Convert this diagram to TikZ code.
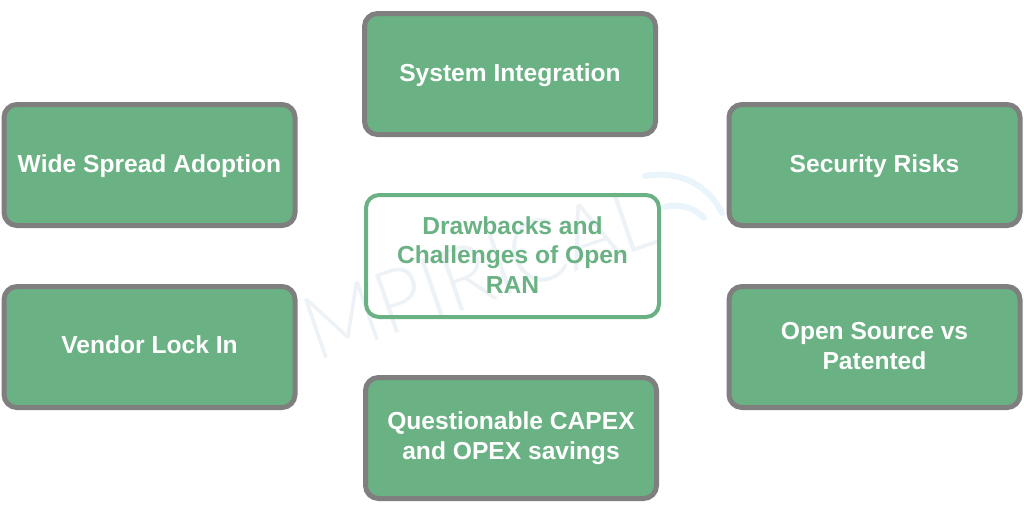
\documentclass[tikz,border=0pt]{standalone}
\usepackage{fontspec}
\setmainfont{Liberation Sans}
\newfontfamily\wmfont{Lato Light}
\definecolor{boxgreen}{HTML}{6AB183}
\definecolor{boxgrey}{HTML}{7F7F7F}
\definecolor{wmtext}{HTML}{EDF2F6}
\definecolor{wmarc}{HTML}{EAF4FB}
\newcommand{\nudge}[2]{\raisebox{#1pt}[\height][\depth]{#2}}
\tikzset{
  issue/.style={draw=boxgrey,fill=boxgreen,line width=5pt,rounded corners=13pt,
    minimum width=291pt,minimum height=121pt,inner sep=0pt,align=center,
    text=white,font=\fontsize{24.6}{29.5}\selectfont\bfseries},
  centre/.style={draw=boxgreen,fill=none,line width=4pt,rounded corners=13pt,
    minimum width=293pt,minimum height=122pt,inner sep=0pt,align=center,
    text=boxgreen,font=\fontsize{24.6}{29.5}\selectfont\bfseries},
  wave/.style={draw=wmarc,line width=6pt,line cap=round}
}
\begin{document}
\begin{tikzpicture}[x=1pt,y=-1pt]
\useasboundingbox (0,0) rectangle (1024,512);
\node[rotate=19,xscale=.94,text=wmtext,font=\fontsize{88}{88}\wmfont,anchor=center] (wm) at (480,272) {MPIRICAL};
\coordinate (wa) at (645,176);
\coordinate (wb) at (722,213);
\coordinate (wc) at (665,207);
\coordinate (wd) at (704,218);
\draw[wave] (wa) .. controls (680,170) and (708,185) .. (wb);
\draw[wave] (wc) .. controls (680,203) and (695,208) .. (wd);
\node[issue] (top) at (510,74) {\nudge{-1}{System Integration}};
\node[issue] (lu) at (149.5,165) {\nudge{-1}{Wide Spread Adoption}};
\node[issue] (ru) at (874.5,165) {\nudge{-1}{Security Risks}};
\node[issue] (ll) at (149.5,347) {\nudge{2}{Vendor Lock In}};
\node[issue] (rl) at (874.5,347) {\nudge{1}{Open Source vs}\\\nudge{1}{Patented}};
\node[issue] (bot) at (511,438) {Questionable CAPEX\\and OPEX savings};
\node[centre] (mid) at (512.5,256) {\nudge{1}{Drawbacks and}\\\nudge{1}{Challenges of Open}\\\nudge{1}{RAN}};
\end{tikzpicture}
\end{document}
